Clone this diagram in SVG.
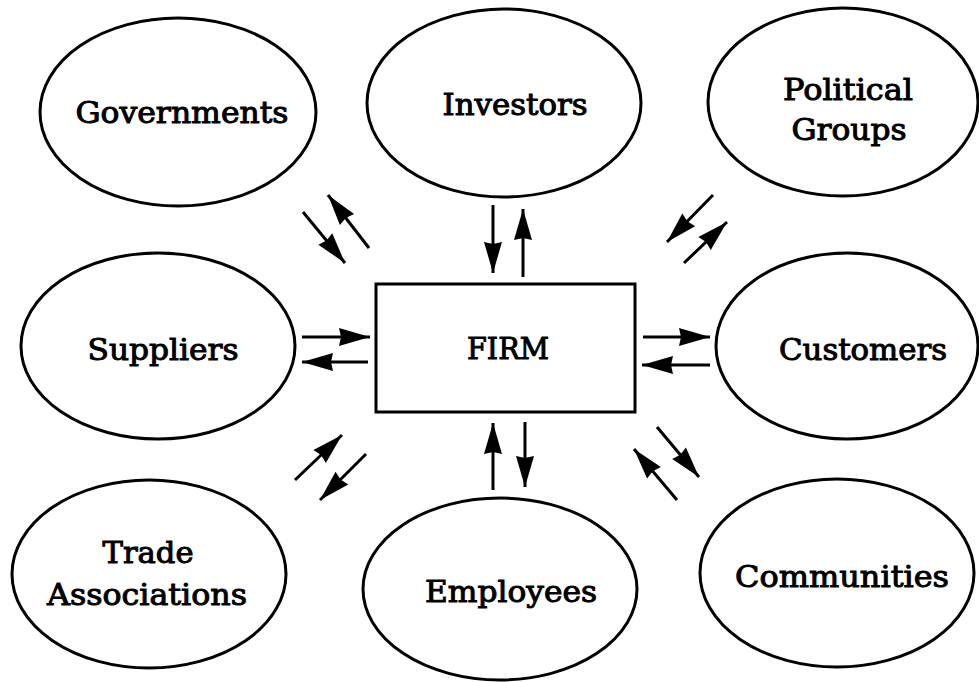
<svg xmlns="http://www.w3.org/2000/svg" width="979" height="682" viewBox="0 0 979 682">
<style>
.n{fill:#fff;stroke:#000;stroke-width:3}
.t{font-family:"DejaVu Serif","Liberation Serif",serif;font-size:30px;fill:#000;stroke:#000;stroke-width:1;text-anchor:middle}
.c line{stroke:#000;stroke-width:3;marker-end:url(#ah)}
</style>
<defs>
<marker id="ah" markerUnits="userSpaceOnUse" markerWidth="32" markerHeight="20" refX="31" refY="10" orient="auto" overflow="visible">
<path d="M0,1 L31,10 L0,19 L2,10 Z" fill="#000"/>
</marker>
</defs>
<rect width="979" height="682" fill="#fff"/>
<g id="governments"><ellipse class="n" cx="178" cy="112" rx="138" ry="94"/><text class="t" x="182" y="123" textLength="213" lengthAdjust="spacingAndGlyphs">Governments</text></g>
<g id="investors"><ellipse class="n" cx="504" cy="103" rx="137" ry="94"/><text class="t" x="515" y="115" textLength="145" lengthAdjust="spacingAndGlyphs">Investors</text></g>
<g id="political-groups"><ellipse class="n" cx="843" cy="102" rx="135" ry="94"/><text class="t" x="848" y="100" textLength="130" lengthAdjust="spacingAndGlyphs">Political</text><text class="t" x="849" y="140" textLength="115" lengthAdjust="spacingAndGlyphs">Groups</text></g>
<g id="suppliers"><ellipse class="n" cx="158" cy="346" rx="137" ry="93"/><text class="t" x="163" y="360" textLength="151" lengthAdjust="spacingAndGlyphs">Suppliers</text></g>
<g id="firm"><rect class="n" x="376" y="284" width="259" height="128"/><text class="t" x="508" y="359" textLength="82" lengthAdjust="spacingAndGlyphs">FIRM</text></g>
<g id="customers"><ellipse class="n" cx="847" cy="346" rx="131" ry="93"/><text class="t" x="863" y="360" textLength="168" lengthAdjust="spacingAndGlyphs">Customers</text></g>
<g id="trade-associations"><ellipse class="n" cx="149" cy="574" rx="137" ry="94"/><text class="t" x="148" y="563" textLength="91" lengthAdjust="spacingAndGlyphs">Trade</text><text class="t" x="147" y="605" textLength="200" lengthAdjust="spacingAndGlyphs">Associations</text></g>
<g id="employees"><ellipse class="n" cx="500" cy="589" rx="137" ry="91"/><text class="t" x="511" y="602" textLength="172" lengthAdjust="spacingAndGlyphs">Employees</text></g>
<g id="communities"><ellipse class="n" cx="837" cy="573" rx="137" ry="94"/><text class="t" x="842" y="587" textLength="214" lengthAdjust="spacingAndGlyphs">Communities</text></g>
<g class="c" id="connectors">
<line x1="303" y1="212" x2="345" y2="263"/>
<line x1="369" y1="248" x2="328" y2="195"/>
<line x1="493" y1="205" x2="493" y2="273"/>
<line x1="523" y1="277" x2="523" y2="209"/>
<line x1="713" y1="195" x2="667" y2="242"/>
<line x1="684" y1="263" x2="727" y2="222"/>
<line x1="302" y1="337" x2="370" y2="337"/>
<line x1="368" y1="362" x2="302" y2="362"/>
<line x1="643" y1="337" x2="710" y2="337"/>
<line x1="710" y1="365" x2="642" y2="365"/>
<line x1="295" y1="480" x2="342" y2="435"/>
<line x1="366" y1="454" x2="320" y2="500"/>
<line x1="493" y1="490" x2="493" y2="423"/>
<line x1="525" y1="422" x2="525" y2="487"/>
<line x1="657" y1="427" x2="699" y2="477"/>
<line x1="677" y1="500" x2="634" y2="449"/>
</g>
</svg>
